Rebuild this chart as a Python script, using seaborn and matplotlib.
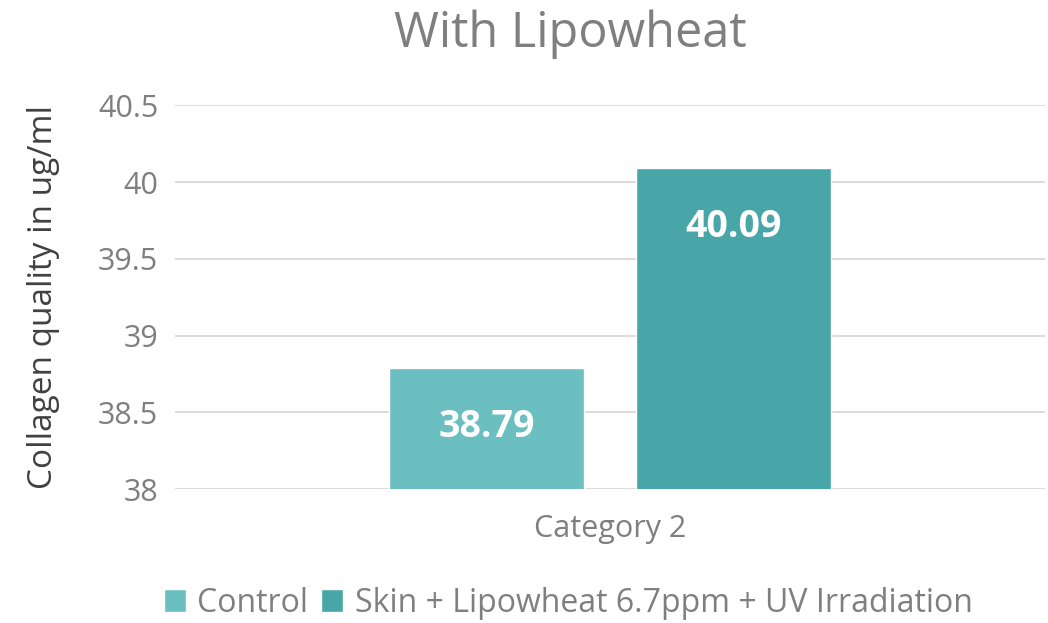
import pandas as pd
import matplotlib.pyplot as plt
import seaborn as sns

# data
categories = ["Category 2"]
series = ["Control", "Skin + Lipowheat 6.7ppm + UV Irradiation"]
values = [38.79, 40.09]
colors = ["#6CBFC0", "#48A6A8"]
y_ticks = [38, 38.5, 39, 39.5, 40, 40.5]
y_tick_labels = ["38", "38.5", "39", "39.5", "40", "40.5"]

df = pd.DataFrame({"cat": categories * len(series), "series": series, "value": values})

sns.set_theme(style="white")
plt.rcParams["font.family"] = ["Open Sans", "DejaVu Sans"]

fig = plt.figure(figsize=(10.48, 6.23), dpi=100)
ax = fig.add_axes([0.167, 0.215, 0.830, 0.616])

sns.barplot(data=df, x="cat", y="value", hue="series", palette=colors,
            width=0.568, gap=0.21, ax=ax, legend=True, saturation=1)

ax.set_ylim(38, 40.5)
ax.set_xlim(-0.5, 0.5)
ax.set_yticks(y_ticks)
ax.set_yticklabels(y_tick_labels)
ax.yaxis.grid(True, color="#D9D9D9", linewidth=1.3)
ax.set_axisbelow(True)
for s in ax.spines.values():
    s.set_visible(False)
ax.tick_params(axis="y", labelsize=22, colors="#7F7F7F", length=0, pad=12)
ax.tick_params(axis="x", labelsize=22, colors="#7F7F7F", length=0, pad=18)
ax.set_xlabel("")
ax.set_ylabel("Collagen quality in ug/ml", fontsize=24, color="#404040", labelpad=27)

# value labels inside the bars
for cont in ax.containers:
    for bar in cont:
        h = bar.get_height()
        ax.text(bar.get_x() + bar.get_width() / 2, h - 0.385, f"{h:.2f}",
                ha="center", va="center", color="white", fontsize=27, fontweight="bold")

fig.suptitle("With Lipowheat", fontsize=35, color="#7F7F7F", x=0.544, y=0.985)

ax.get_legend().remove()
handles, labels = ax.get_legend_handles_labels()
fig.legend(handles, labels, loc="center", bbox_to_anchor=(0.542, 0.032), ncol=2, frameon=False,
           fontsize=23, labelcolor="#7F7F7F", handlelength=0.7, handleheight=0.7,
           handletextpad=0.35, columnspacing=0.4)

fig.savefig("out.png", dpi=100)
